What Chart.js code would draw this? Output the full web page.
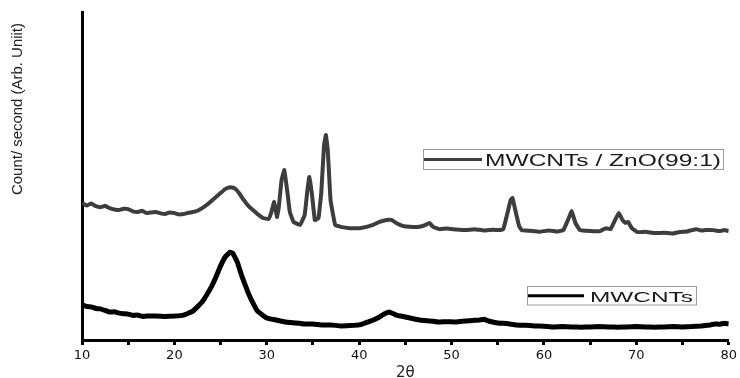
<!DOCTYPE html>
<html><head><meta charset="utf-8">
<script src="https://cdn.jsdelivr.net/npm/chart.js@4/dist/chart.umd.min.js"></script>
<style>html,body{margin:0;padding:0;background:#fff}#wrap{width:740px;height:378px}</style>
</head><body><div id="wrap"><canvas id="c" width="740" height="378"></canvas></div>
<script>
// ---- data ----
const seriesNames = ['MWCNTs / ZnO(99:1)', 'MWCNTs'];
const xTickLabels = [10, 20, 30, 40, 50, 60, 70, 80];
const xAxisTitle = '2\u03b8';
const yAxisTitle = 'Count/ second (Arb. Uniit)';

const znoTwoTheta = [10,10.5,11,11.5,12,12.5,13,13.5,14,14.5,15,15.5,16,16.5,17,17.5,18,18.5,19,19.5,20,20.5,21,21.5,22,22.5,23,23.5,24,24.5,25,25.5,26,26.5,27,27.5,28,28.5,29,29.6,30.2,30.5,30.8,31.1,31.3,31.6,31.9,32.2,32.5,32.9,33.6,34.1,34.4,34.6,34.9,35.2,35.6,35.9,36.2,36.4,36.6,36.9,37.4,38,39,40,40.8,41.5,42.2,43,43.5,44,44.7,45.5,46.5,47.2,47.6,48,48.7,49.5,50.5,51.5,52.5,53.5,54.5,55.2,55.6,56,56.4,56.6,56.9,57.3,57.6,58.5,59.5,60.5,61.5,62.1,62.6,63,63.4,63.9,65,66.1,66.7,67.2,67.7,68.1,68.5,68.8,69.1,69.5,70.1,71,72,73,74,74.7,75.5,76,76.5,77,77.5,78.3,79,79.5,80];
const znoCounts   = [41.8,41.0,41.6,40.8,40.5,40.9,40.2,39.8,39.6,40.0,39.9,39.2,39.0,39.4,38.7,38.9,39.0,38.6,38.4,38.9,38.7,38.3,38.4,38.8,39.0,39.4,40.2,41.2,42.4,43.6,44.8,46.0,46.6,46.3,44.8,42.7,40.9,39.6,38.4,37.2,36.9,39.0,42.1,37.5,40.5,48.8,51.8,45.7,39.0,36.0,35.1,38.1,45.7,49.7,44.2,36.6,37.2,45.0,59.5,62.5,57.9,42.7,35.1,34.5,34.1,34.1,34.5,35.1,36.0,36.6,36.6,35.7,34.8,34.5,34.5,35.1,35.7,34.5,33.8,34.0,33.7,33.5,33.8,33.4,33.6,33.5,33.8,38.1,42.7,43.3,39.6,34.8,33.5,33.3,33.0,33.4,33.1,33.5,36.6,39.3,35.7,33.5,33.2,33.2,34.1,33.8,36.6,38.7,36.6,35.7,36.0,34.1,32.9,33.0,32.6,32.7,32.5,32.9,33.1,33.5,33.8,33.4,33.5,33.5,33.2,33.5,33.2];

const cntTwoTheta = [10,10.5,11,11.5,12,12.5,13,13.5,14,14.5,15,15.5,16,16.5,17,18,19,20,21,22,23,24,24.5,25,25.5,26,26.3,26.8,27.3,28,28.5,29,30,31,32,33,34,35,36,37,38,39,40,41,42,42.7,43.3,44,44.5,45.5,46.5,47.5,48.5,49.5,50.5,51.5,52.5,53,53.5,54,55,56,57,58,59,60,61,62,63,64,65,66,67,68,69,70,71,72,73,74,75,76,77,78,78.5,79,79.5,80];
const cntCounts   = [10.7,10.2,10.1,9.6,9.5,9.0,8.5,8.6,8.2,8.0,7.9,7.5,7.6,7.2,7.3,7.3,7.2,7.3,7.6,8.8,11.6,16.2,19.2,22.6,25.3,26.8,26.5,23.8,19.5,14.3,11.3,8.8,6.7,6.1,5.5,5.2,4.9,4.9,4.6,4.6,4.3,4.4,4.6,5.5,6.7,7.9,8.5,7.6,7.3,6.7,6.1,5.8,5.5,5.6,5.5,5.8,6.0,6.1,6.3,5.8,5.2,5.0,4.6,4.5,4.3,4.2,4.0,4.1,4.0,3.9,4.0,4.1,4.0,3.9,4.0,4.1,4.0,3.9,4.0,4.1,4.0,4.1,4.3,4.6,4.9,4.8,5.1,4.9];

const toPoints = (xs, ys) => xs.map((x, i) => ({x: x, y: ys[i]}));

const legendBoxes = {
  id: 'legendBoxes',
  afterDraw(chart) {
    const ctx = chart.ctx;
    const specs = [
      {ds: 0, box: [423.5, 149.5, 300, 20], line: [424, 482, 159.5], tx: 485, ty: 165.6, tw: 236, size: 16},
      {ds: 1, box: [527.5, 286.5, 169, 18.5], line: [528, 584, 295.7], tx: 590, ty: 301.6, tw: 103, size: 15}
    ];
    ctx.save();
    specs.forEach(s => {
      const ds = chart.data.datasets[s.ds];
      ctx.fillStyle = '#fff';
      ctx.fillRect(s.box[0], s.box[1], s.box[2], s.box[3]);
      ctx.strokeStyle = '#9a9a9a';
      ctx.lineWidth = 1;
      ctx.strokeRect(s.box[0], s.box[1], s.box[2], s.box[3]);
      ctx.strokeStyle = ds.borderColor;
      ctx.lineWidth = 3;
      ctx.beginPath();
      ctx.moveTo(s.line[0], s.line[2]);
      ctx.lineTo(s.line[1], s.line[2]);
      ctx.stroke();
      ctx.font = s.size + 'px "Liberation Sans", Arial, sans-serif';
      ctx.fillStyle = '#1a1a1a';
      ctx.textBaseline = 'alphabetic';
      ctx.textAlign = 'left';
      const w = ctx.measureText(ds.label).width;
      ctx.save();
      ctx.translate(s.tx, s.ty);
      ctx.scale(s.tw / w, 1);
      ctx.fillText(ds.label, 0, 0);
      ctx.restore();
    });
    // y axis title
    ctx.font = '15px "Liberation Sans", Arial, sans-serif';
    ctx.fillStyle = '#222';
    ctx.textAlign = 'center';
    ctx.textBaseline = 'middle';
    const w = ctx.measureText(yAxisTitle).width;
    ctx.translate(18, 109);
    ctx.rotate(-Math.PI / 2);
    ctx.scale(172 / w, 1);
    ctx.fillText(yAxisTitle, 0, 0);
    ctx.restore();
  }
};

new Chart(document.getElementById('c'), {
  type: 'line',
  data: {
    datasets: [
      {label: seriesNames[0], data: toPoints(znoTwoTheta, znoCounts), borderColor: '#3d3d3d', borderWidth: 4, pointRadius: 0, tension: 0.08, fill: false},
      {label: seriesNames[1], data: toPoints(cntTwoTheta, cntCounts), borderColor: '#000000', borderWidth: 5, pointRadius: 0, tension: 0.08, fill: false}
    ]
  },
  options: {
    responsive: false,
    animation: false,
    devicePixelRatio: 1,
    layout: {padding: {left: 0, right: 11, top: 12, bottom: 0}},
    plugins: {legend: {display: false}, tooltip: {enabled: false}},
    scales: {
      x: {
        type: 'linear', min: 10, max: 80,
        afterFit: (s) => { s.height = 38; },
        afterBuildTicks: (s) => {
          const t = [];
          xTickLabels.forEach((v, i) => { t.push({value: v}); if (i < xTickLabels.length - 1) t.push({value: v + 5}); });
          s.ticks = t;
        },
        ticks: {
          autoSkip: false, maxRotation: 0,
          callback: (v) => (xTickLabels.includes(v) ? String(v) : ''),
          font: {family: '"DejaVu Sans", sans-serif', size: 13}, color: '#111', padding: 3
        },
        grid: {display: true, drawOnChartArea: false, drawTicks: true, tickLength: 5, tickWidth: 3, tickColor: '#000'},
        border: {display: true, color: '#000', width: 3},
        title: {display: true, text: xAxisTitle, font: {family: '"DejaVu Sans", sans-serif', size: 15}, color: '#222', padding: {top: 0, bottom: -4}}
      },
      y: {
        type: 'linear', min: 0, max: 100,
        afterFit: (s) => { s.width = 82; },
        ticks: {display: false},
        grid: {display: false},
        border: {display: true, color: '#000', width: 3}
      }
    }
  },
  plugins: [legendBoxes]
});
</script>
</body></html>
